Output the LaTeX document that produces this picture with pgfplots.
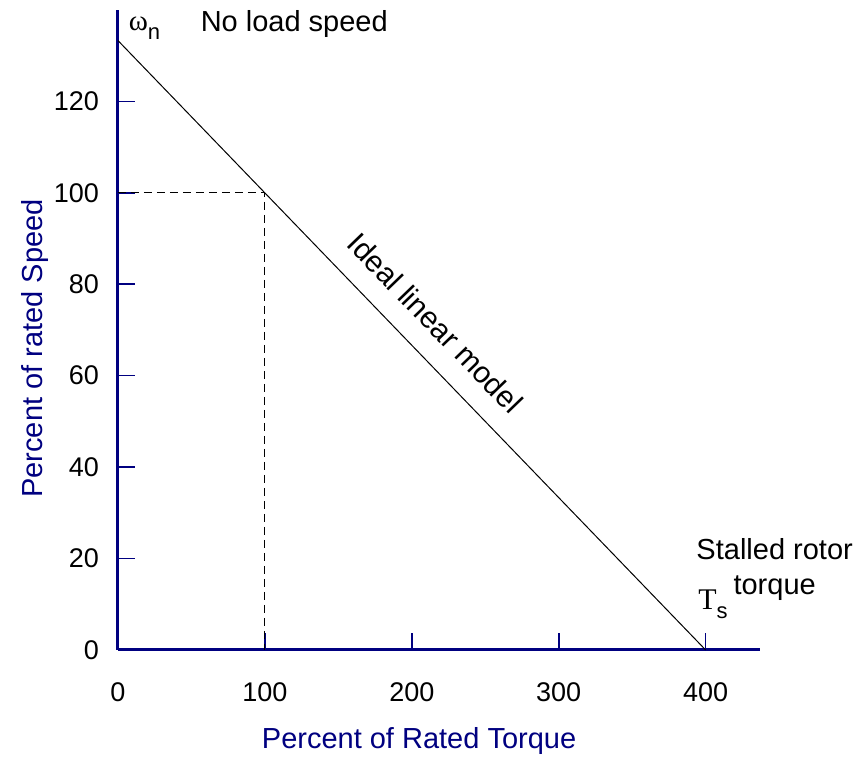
\documentclass[border=0pt]{standalone}
\usepackage{pgfplots}
\pgfplotsset{compat=1.18}
\usepackage{fontspec}
\setmainfont{Liberation Sans}
\newfontfamily\seriffont{Liberation Serif}
\definecolor{axisblue}{RGB}{0,0,128}

\begin{document}
\begin{tikzpicture}
\begin{axis}[
    scale only axis,
    width=321pt, height=320pt,
    xmin=0, xmax=437,
    ymin=0, ymax=140,
    axis x line*=bottom,
    axis y line*=left,
    axis line style={axisblue, line width=1.5pt, -},
    tick style={axisblue, line width=0.8pt},
    tick align=inside,
    major tick length=8.5pt,
    xtick={0,100,200,300,400},
    ytick={0,20,40,60,80,100,120},
    ticklabel style={font=\fontsize{13.5}{16}\selectfont, black},
    /pgf/number format/assume math mode=true,
    xticklabel style={yshift=-13pt},
    yticklabel style={xshift=-6pt},
    xlabel={Percent of Rated Torque},
    ylabel={Percent of rated Speed},
    label style={font=\fontsize{14.5}{16}\selectfont, axisblue},
    xlabel style={at={(ticklabel cs:0.469)}, yshift=-6pt},
    ylabel style={at={(ticklabel cs:0.471)}, yshift=-4pt},
    clip=false,
]
% ideal linear model
\addplot[black, line width=0.5pt] coordinates {(0,133.3) (400,0)};
% rated operating point
\addplot[black, line width=0.5pt, dash pattern=on 4pt off 2.5pt] coordinates {(0,100) (100,100) (100,0)};

\node[font=\fontsize{14.5}{17}\selectfont] at (axis cs:18,136) {{\seriffont ω}\raisebox{-0.6ex}{\fontsize{11}{12}\selectfont n}};
\node[font=\fontsize{14.5}{17}\selectfont] at (axis cs:120,137) {No load speed};
\node[font=\fontsize{15}{17}\selectfont, rotate=-46] at (axis cs:216,71.5) {Ideal linear model};
\node[font=\fontsize{14.5}{17.5}\selectfont, align=center] at (axis cs:447,17.7) {Stalled rotor\\torque};
\node[font=\fontsize{15}{17}\selectfont] at (axis cs:405,10) {{\seriffont T}\raisebox{-0.6ex}{\fontsize{11}{12}\selectfont s}};

\useasboundingbox (rel axis cs:-0.1838,-0.1609) rectangle (rel axis cs:1.1667,1.0156);
\end{axis}
\end{tikzpicture}
\end{document}
